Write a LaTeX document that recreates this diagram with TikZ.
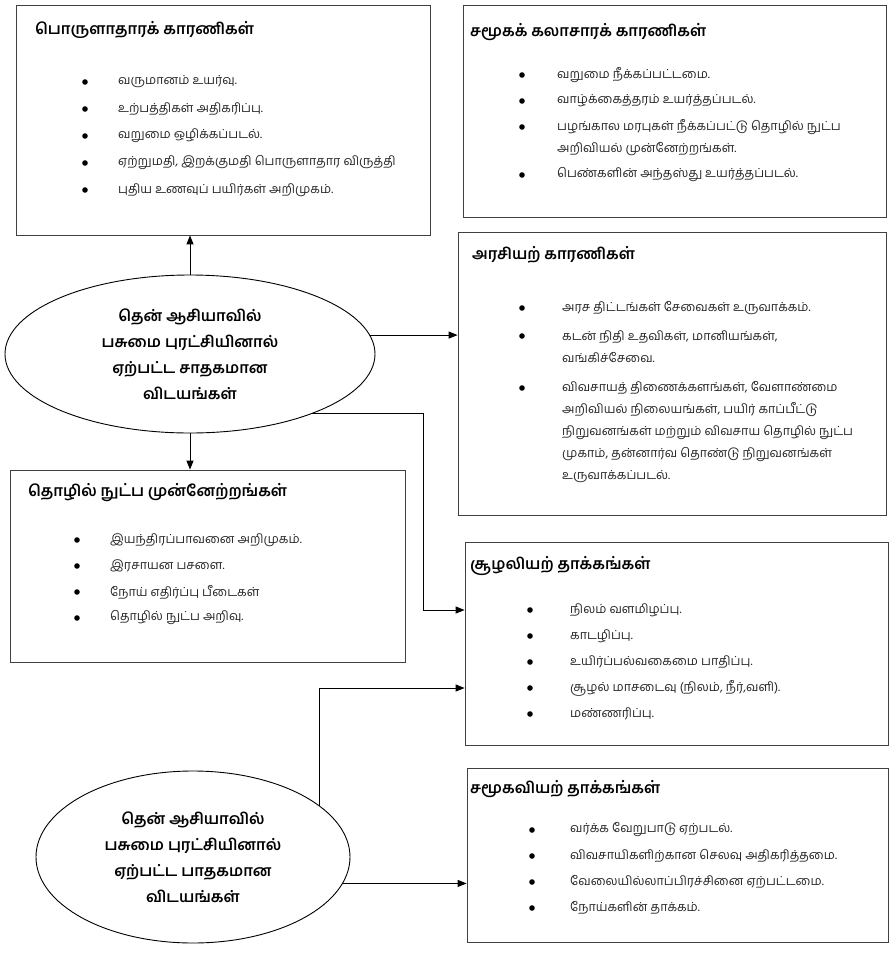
\documentclass[tikz,border=0pt]{standalone}
\usepackage{fontspec}
\usepackage{tikz}
\usetikzlibrary{arrows.meta, shapes.geometric, fit}
\newfontfamily\tamil[Script=Tamil]{Hind Madurai}

\begin{document}
\begin{tikzpicture}[x=1pt, y=-1pt,
		box/.style={draw=black!75, line width=0.8pt, inner sep=0pt},
		head/.style={anchor=base west, inner sep=0pt, font=\tamil\bfseries\fontsize{15.5}{18}\selectfont},
		item/.style={anchor=west, inner sep=0pt, align=left, text=black!85, font=\tamil\fontsize{12.5}{22}\selectfont},
		oval/.style={draw, ellipse, line width=0.9pt, align=center, inner sep=0pt, font=\tamil\bfseries\fontsize{15.5}{26}\selectfont},
		arr/.style={-{Triangle[length=9pt,width=7pt]}, line width=1pt}]
		
		\fill[white] (0,0) rectangle (890,954);
		\useasboundingbox (0,0) rectangle (890,954);
		
		%
		\node[box, fit={(16,5) (430,235)}] (econ) {};
		\node[box, fit={(463,5) (886,217)}] (cult) {};
		\node[box, fit={(458,232) (886,515)}] (polit) {};
		\node[box, fit={(10,470) (405,662)}] (tech) {};
		\node[box, fit={(465,542) (888,745)}] (envir) {};
		\node[box, fit={(467,768) (888,942)}] (soc) {};
		
		%
		\node[oval, minimum width=370pt, minimum height=158pt] (pos) at (190,354)
			{தென் ஆசியாவில்\\ பசுமை புரட்சியினால்\\ ஏற்பட்ட சாதகமான\\ விடயங்கள்};
		\node[oval, minimum width=314pt, minimum height=172pt] (neg) at (193,857)
			{தென் ஆசியாவில்\\ பசுமை புரட்சியினால்\\ ஏற்பட்ட பாதகமான\\ விடயங்கள்};
		
		%
		\node[head] (econH) at (35,34) {பொருளாதாரக் காரணிகள்};
		\node[head] (cultH) at (470,36) {சமூகக் கலாசாரக் காரணிகள்};
		\node[head] (politH) at (472,259) {அரசியற் காரணிகள்};
		\node[head] (techH) at (28,496) {தொழில் நுட்ப முன்னேற்றங்கள்};
		\node[head] (envirH) at (470,569) {சூழலியற் தாக்கங்கள்};
		\node[head] (socH) at (470,793) {சமூகவியற் தாக்கங்கள்};
		
		%
		\foreach \y/\t [count=\i] in {82/{வருமானம் உயர்வு.}, 109/{உற்பத்திகள் அதிகரிப்பு.},
			136/{வறுமை ஒழிக்கப்படல்.}, 163/{ஏற்றுமதி, இறக்குமதி பொருளாதார விருத்தி},
			190/{புதிய உணவுப் பயிர்கள் அறிமுகம்.}} {
			\fill (85,\y) circle (2.8pt);
			\node[item] (econ\i) at (118,\y) {\t};
		}
		
		\foreach \y/\n/\t [count=\i, evaluate=\n as \c using {\y+11*(\n-1)}] in {75/1/{வறுமை நீக்கப்பட்டமை.},
			101/1/{வாழ்க்கைத்தரம் உயர்த்தப்படல்.},
			127/2/{பழங்கால மரபுகள் நீக்கப்பட்டு தொழில் நுட்ப\\ அறிவியல் முன்னேற்றங்கள்.},
			175/1/{பெண்களின் அந்தஸ்து உயர்த்தப்படல்.}} {
			\fill (522,\y) circle (2.8pt);
			\node[item] (cult\i) at (557,\c) {\t};
		}
		
		\foreach \y/\n/\t [count=\i, evaluate=\n as \c using {\y+11*(\n-1)}] in {308/1/{அரச திட்டங்கள் சேவைகள் உருவாக்கம்.},
			336/2/{கடன் நிதி உதவிகள், மானியங்கள்,\\ வங்கிச்சேவை.},
			388/5/{விவசாயத் திணைக்களங்கள், வேளாண்மை\\ அறிவியல் நிலையங்கள், பயிர் காப்பீட்டு\\ நிறுவனங்கள் மற்றும் விவசாய தொழில் நுட்ப\\ முகாம், தன்னார்வ தொண்டு நிறுவனங்கள்\\ உருவாக்கப்படல்.}} {
			\fill (522,\y) circle (2.8pt);
			\node[item] (polit\i) at (562,\c) {\t};
		}
		
		\foreach \y/\t [count=\i] in {540/{இயந்திரப்பாவனை அறிமுகம்.}, 566/{இரசாயன பசளை.},
			592/{நோய் எதிர்ப்பு பீடைகள்}, 618/{தொழில் நுட்ப அறிவு.}} {
			\fill (77,\y) circle (2.8pt);
			\node[item] (tech\i) at (110,\y) {\t};
		}
		
		\foreach \y/\t [count=\i] in {610/{நிலம் வளமிழப்பு.}, 636/{காடழிப்பு.},
			662/{உயிர்ப்பல்வகைமை பாதிப்பு.}, 688/{சூழல் மாசடைவு (நிலம், நீர்,வளி).},
			714/{மண்ணரிப்பு.}} {
			\fill (530,\y) circle (2.8pt);
			\node[item] (envir\i) at (570,\y) {\t};
		}
		
		\foreach \y/\t [count=\i] in {830/{வர்க்க வேறுபாடு ஏற்படல்.}, 856/{விவசாயிகளிற்கான செலவு அதிகரித்தமை.},
			882/{வேலையில்லாப்பிரச்சினை ஏற்பட்டமை.}, 908/{நோய்களின் தாக்கம்.}} {
			\fill (532,\y) circle (2.8pt);
			\node[item] (soc\i) at (570,\y) {\t};
		}
		
		%
		\coordinate (knee) at (423,414);
		
		\draw[arr] (pos.north) -- (pos.north |- econ.south);
		\draw[arr] (pos.south) -- (pos.south |- tech.north);
		\draw[arr] (pos.6) -- (pos.6 -| polit.west);
		\draw[arr] (pos.334) -- (pos.334 -| knee) -- (knee |- envir1) -- (envir1 -| envir.west);
		\draw[arr] (neg.22) -- (neg.22 |- envir4) -- (envir4 -| envir.west);
		\draw[arr] (neg.350) -- (neg.350 -| soc.west);
		
	\end{tikzpicture}
\end{document}
